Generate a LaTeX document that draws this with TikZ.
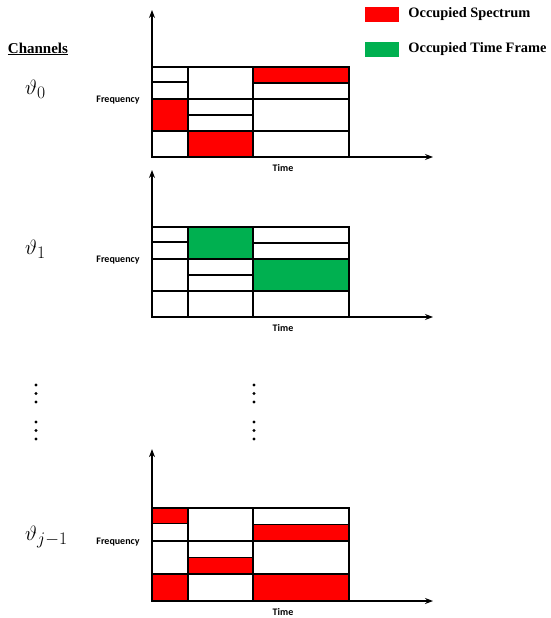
\documentclass[tikz,border=0pt]{standalone}
\usepackage{fontspec}
\setmainfont{Liberation Serif}
\newfontfamily\calfont{Carlito}
\usetikzlibrary{arrows.meta,positioning}
\definecolor{occred}{RGB}{255,0,0}
\definecolor{occgreen}{RGB}{0,176,80}

\begin{document}
\begin{tikzpicture}[x=1pt,y=-1pt,
      axis/.style={line width=1.1pt,-{Stealth[length=8pt,width=6pt]}},%
      cellline/.style={line width=1.4pt},%
      freqlabel/.style={font=\calfont\bfseries\fontsize{10}{11}\selectfont,inner sep=1pt},%
      chanlabel/.style={font=\fontsize{21}{25}\selectfont,anchor=west,inner sep=0pt},%
      legbox/.style={minimum width=34pt,minimum height=15pt,inner sep=0pt},%
      legtext/.style={font=\bfseries\fontsize{14.4}{16}\selectfont,inner sep=0pt,anchor=west}%
      ]
      \useasboundingbox (0,0) rectangle (550,618);
      %% legend
      \node[legbox,fill=occred] (specbox) at (382,14.5) {};%
      \node[legtext,right=9pt of specbox] (spectext) {Occupied Spectrum};%
      \node[legbox,fill=occgreen] (framebox) at (382,49.5) {};%
      \node[legtext,right=9pt of framebox] (frametext) {Occupied Time Frame};%
      \node[font=\bfseries\fontsize{15}{17}\selectfont] (chanhead) at (38,49) {\underline{Channels}};%
      %% one panel per channel
      \foreach \p/\yb/\s/\ty/\sub/\cells in
      {0/157/1/89/0/{occred/101/75/197/90,occred/0/26/36/58,occred/36/0/101/26},
        1/317/1/249/1/{occgreen/36/58/101/90,occgreen/101/26/197/58},
        2/601/1.033/537/{j{-}1}/{occred/0/75/36/90,occred/101/58/197/74,occred/36/26/101/42,occred/0/0/36/26,occred/101/0/197/26}} {%
        \begin{scope}[shift={(152,\yb)},yscale=-\s]
          %% occupied cells
          \foreach \c/\xa/\ya/\xb/\yc in \cells {%
            \fill[\c] (\xa,\ya) rectangle (\xb,\yc);%
          }%
          %% cell borders
          \draw[cellline] (0,0) rectangle (197,90);%
          \draw[cellline] (36,0) -- (36,90) (101,0) -- (101,90);%
          \draw[cellline] (0,26) -- (197,26) (0,58) -- (197,58);%
          \draw[cellline] (0,75) -- (36,75) (36,42) -- (101,42) (101,74) -- (197,74);%
          %% axes
          \coordinate (o\p) at (0,0);%
          \coordinate (ytip\p) at (0,147);%
          \coordinate (xtip\p) at (281,0);%
          \draw[axis] (o\p) -- (ytip\p);%
          \draw[axis] (o\p) -- (xtip\p);%
          \node[freqlabel] (freq\p) at (-34,57) {Frequency};%
          \node[freqlabel] (time\p) at (131,-11) {Time};%
        \end{scope}
        \node[chanlabel] (chan\p) at (25,\ty) {$\vartheta_{\scalebox{0.85}{$\textstyle\sub$}}$};%
      }%
      %% dots between the panels
      \foreach \x in {36,254} {%
        \foreach \y in {385,393.5,402,422,430.5,439} {%
          \fill (\x,\y) circle (1.6pt);%
        }%
      }%
    \end{tikzpicture}
\end{document}
